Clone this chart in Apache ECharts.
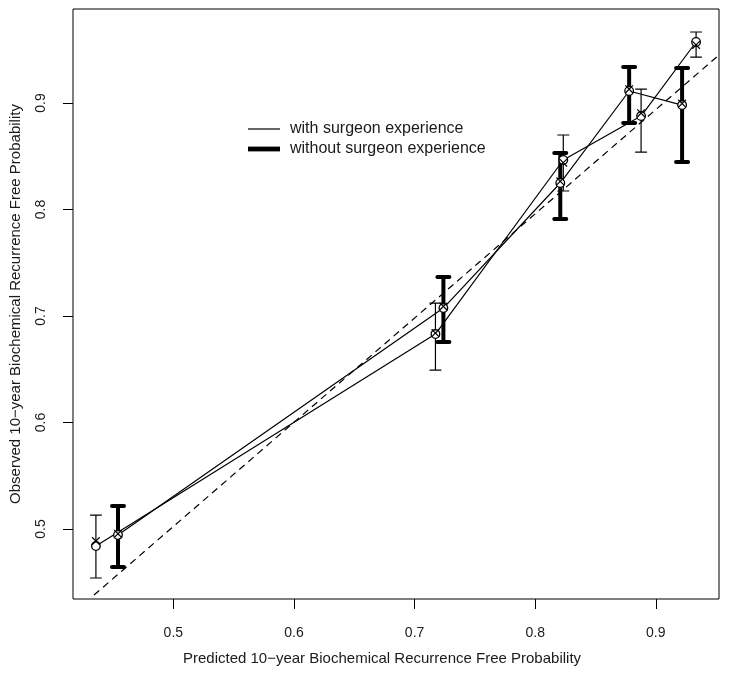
<!DOCTYPE html>
<html><head><meta charset="utf-8">
<script src="https://cdn.jsdelivr.net/npm/echarts@6/dist/echarts.min.js"></script>
<style>html,body{margin:0;padding:0;background:#fff}#c{width:729px;height:674px}</style>
</head><body><div id="c"></div>
<script>
// ---- data ----
const xTicks = [0.5, 0.6, 0.7, 0.8, 0.9];
const yTicks = [0.5, 0.6, 0.7, 0.8, 0.9];
// reference (dashed) line, end points
const idealX = [0.4342, 0.9524];
const idealY = [0.4380, 0.9451];

const predWith  = [0.4358, 0.7173, 0.8233, 0.8878, 0.9334];
const obsWith   = [0.4840, 0.6831, 0.8465, 0.8878, 0.9573];
const corrWith  = [0.4887, 0.6840, 0.8440, 0.8905, 0.9545];
const lowerWith = [0.4540, 0.6493, 0.8174, 0.8540, 0.9432];
const upperWith = [0.5131, 0.7122, 0.8700, 0.9131, 0.9667];

const predWithout  = [0.4541, 0.7239, 0.8208, 0.8779, 0.9218];
const obsWithout   = [0.4944, 0.7075, 0.8249, 0.9113, 0.8981];
const corrWithout  = [0.4955, 0.7090, 0.8265, 0.9130, 0.8995];
const lowerWithout = [0.4643, 0.6756, 0.7911, 0.8812, 0.8446];
const upperWithout = [0.5216, 0.7366, 0.8531, 0.9338, 0.9329];

const FONT = 'Liberation Sans';
const TXT = '#1a1a1a';

function errbarSeries(name, pred, lo, hi, width, cap) {
  return {
    type: 'custom', name: name + ' CI', silent: true, z: 3,
    data: pred.map((p, i) => [p, lo[i], hi[i]]),
    encode: { x: 0, y: [1, 2] },
    renderItem(params, api) {
      const x = api.value(0);
      const a = api.coord([x, api.value(1)]);
      const b = api.coord([x, api.value(2)]);
      const st = { stroke: '#000', lineWidth: width, lineCap: 'butt' };
      const cs = Object.assign({}, st, { lineCap: 'round' });
      return { type: 'group', children: [
        { type: 'line', shape: { x1: a[0], y1: a[1], x2: b[0], y2: b[1] }, style: st },
        { type: 'line', shape: { x1: a[0] - cap, y1: a[1], x2: a[0] + cap, y2: a[1] }, style: cs },
        { type: 'line', shape: { x1: b[0] - cap, y1: b[1], x2: b[0] + cap, y2: b[1] }, style: cs }
      ]};
    }
  };
}

function markerSeries(name, pred, obs, corr) {
  return {
    type: 'custom', name: name + ' pts', silent: true, z: 5,
    data: pred.map((p, i) => [p, obs[i], corr[i]]),
    encode: { x: 0, y: [1, 2] },
    renderItem(params, api) {
      const o = api.coord([api.value(0), api.value(1)]);
      const c = api.coord([api.value(0), api.value(2)]);
      const s = 3.8;
      const st = { stroke: '#000', lineWidth: 1.2 };
      return { type: 'group', children: [
        { type: 'circle', shape: { cx: o[0], cy: o[1], r: 4.3 }, style: { fill: '#fff', stroke: '#000', lineWidth: 1.3 } },
        { type: 'line', shape: { x1: c[0] - s, y1: c[1] - s, x2: c[0] + s, y2: c[1] + s }, style: st },
        { type: 'line', shape: { x1: c[0] - s, y1: c[1] + s, x2: c[0] + s, y2: c[1] - s }, style: st }
      ]};
    }
  };
}

const chart = echarts.init(document.getElementById('c'), null, { renderer: 'canvas' });
chart.setOption({
  animation: false,
  backgroundColor: '#fff',
  textStyle: { fontFamily: FONT, color: TXT },
  grid: { left: 72, right: 10, top: 9, bottom: 75, show: true, borderColor: '#000', borderWidth: 1, containLabel: false },
  xAxis: {
    type: 'value', min: 0.4168, max: 0.9524,
    name: 'Predicted 10\u2212year Biochemical Recurrence Free Probability',
    nameLocation: 'middle', nameGap: 52,
    nameTextStyle: { fontFamily: FONT, fontSize: 15, color: TXT, padding: [0, 28, 0, 0] },
    axisLine: { show: false },
    axisTick: { show: true, inside: false, length: 10, customValues: xTicks, lineStyle: { color: '#000' } },
    axisLabel: { show: true, margin: 27, fontSize: 14, color: TXT, fontFamily: FONT, customValues: xTicks, formatter: v => v.toFixed(1) },
    splitLine: { show: false }
  },
  yAxis: {
    type: 'value', min: 0.4343, max: 0.9883,
    name: 'Observed 10\u2212year Biochemical Recurrence Free Probability',
    nameLocation: 'middle', nameGap: 50,
    nameTextStyle: { fontFamily: FONT, fontSize: 15, color: TXT },
    axisLine: { show: false },
    axisTick: { show: true, inside: false, length: 10, customValues: yTicks, lineStyle: { color: '#000' } },
    axisLabel: { show: true, margin: 25, rotate: 90, fontSize: 14, color: TXT, fontFamily: FONT, customValues: yTicks, formatter: v => v.toFixed(1) },
    splitLine: { show: false }
  },
  legend: {
    orient: 'vertical', left: 243, top: 116,
    itemWidth: 32, itemHeight: 14, itemGap: 4,
    selectedMode: false,
    textStyle: { fontFamily: FONT, fontSize: 16, lineHeight: 16, color: TXT, padding: [0, 0, 0, 5] },
    data: [
      { name: 'with surgeon experience', icon: 'path://M0,0H32V1.2H0Z' },
      { name: 'without surgeon experience', icon: 'path://M0,0H32V4.8H0Z' }
    ]
  },
  series: [
    {
      type: 'line', name: 'ideal', data: idealX.map((v, i) => [v, idealY[i]]), symbol: 'none', silent: true, z: 1,
      lineStyle: { color: '#000', width: 1.2, type: [7, 5] }, clip: true
    },
    {
      type: 'line', name: 'with surgeon experience', data: predWith.map((p, i) => [p, obsWith[i]]),
      symbol: 'none', z: 2, color: '#000', itemStyle: { color: '#000' },
      lineStyle: { color: '#000', width: 1.2 }
    },
    {
      type: 'line', name: 'without surgeon experience', data: predWithout.map((p, i) => [p, obsWithout[i]]),
      symbol: 'none', z: 2, color: '#000', itemStyle: { color: '#000' },
      lineStyle: { color: '#000', width: 1.2 }
    },
    errbarSeries('with', predWith, lowerWith, upperWith, 1.2, 5.5),
    errbarSeries('without', predWithout, lowerWithout, upperWithout, 4, 6),
    markerSeries('with', predWith, obsWith, corrWith),
    markerSeries('without', predWithout, obsWithout, corrWithout)
  ]
});
</script>
</body></html>
